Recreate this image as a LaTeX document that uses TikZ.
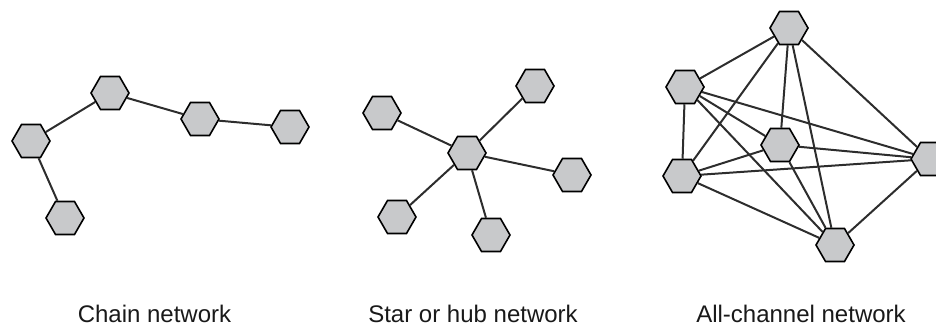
\documentclass[tikz,border=0pt]{standalone}
\usepackage{fontspec}
\setmainfont{Liberation Sans}
\usetikzlibrary{shapes.geometric}
\definecolor{hexfill}{RGB}{200,201,203}
\definecolor{edgecol}{RGB}{45,45,45}
\tikzset{
  hexnode/.style={regular polygon, regular polygon sides=6, minimum size=38pt, inner sep=0pt,
    draw=black, line width=1.6pt, fill=hexfill},
  link/.style={draw=edgecol, line width=2pt},
  caption/.style={anchor=base, inner sep=0pt, text=black!90, font=\fontsize{24}{28}\selectfont}
}
\begin{document}
\begin{tikzpicture}[x=1pt,y=-1pt]
\useasboundingbox (0,0) rectangle (936,328);
% Chain
\node[hexnode] (ca) at (31,141) {};
\node[hexnode] (cb) at (110,93) {};
\node[hexnode] (cc) at (200,119) {};
\node[hexnode] (cd) at (290,127) {};
\node[hexnode] (ce) at (65,218) {};
\draw[link] (ca) -- (cb);
\draw[link] (cb) -- (cc);
\draw[link] (cc) -- (cd);
\draw[link] (ca) -- (ce);
% Star
\node[hexnode] (sh) at (467,153) {};
\node[hexnode] (s1) at (382,113) {};
\node[hexnode] (s2) at (535,86) {};
\node[hexnode] (s3) at (572,175) {};
\node[hexnode] (s4) at (397,217) {};
\node[hexnode] (s5) at (491,235) {};
\foreach \n in {s1,s2,s3,s4,s5} \draw[link] (sh) -- (\n);
% All-channel
\node[hexnode] (at) at (789,28) {};
\node[hexnode] (al) at (685,87) {};
\node[hexnode] (am) at (780,145) {};
\node[hexnode] (ab) at (682,176) {};
\node[hexnode] (ad) at (835,245) {};
\node[hexnode] (ar) at (930,159) {};
\draw[link] (at) -- (al);
\draw[link] (at) -- (ab);
\draw[link] (at) -- (am);
\draw[link] (at) -- (ad);
\draw[link] (at) -- (ar);
\draw[link] (al) -- (ab);
\draw[link] (al) -- (am);
\draw[link] (al) -- (ar);
\draw[link] (al) -- (ad);
\draw[link] (ab) -- (am);
\draw[link] (ab) -- (ar);
\draw[link] (ab) -- (ad);
\draw[link] (am) -- (ar);
\draw[link] (am) -- (ad);
\draw[link] (ar) -- (ad);
% Captions
\node[caption] (l1) at (154.5,323) {Chain network};
\node[caption] (l2) at (473,323) {Star or hub network};
\node[caption] (l3) at (801,323) {All-channel network};
\end{tikzpicture}
\end{document}
